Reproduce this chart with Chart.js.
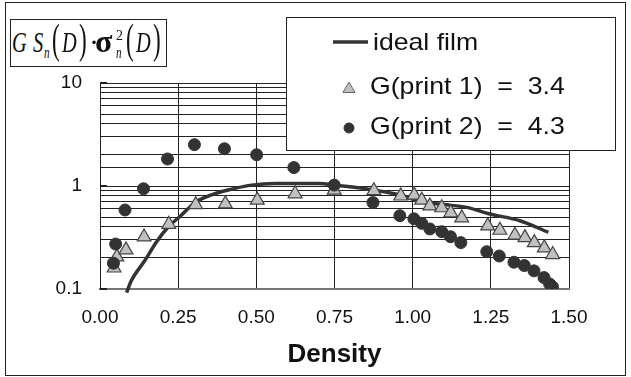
<!DOCTYPE html>
<html>
<head>
<meta charset="utf-8">
<script src="https://cdn.jsdelivr.net/npm/chart.js@4/dist/chart.umd.min.js"></script>
<style>
  html, body { margin: 0; padding: 0; background: #fff; }
  #wrap { position: relative; width: 631px; height: 377px; }
  #chart { position: absolute; left: 0; top: 0; }
  #frame { position: absolute; left: 5px; top: 2px; width: 619px; height: 372px; border: 1px solid #222; }
  #ttl {
    position: absolute; left: 10px; top: 19px; width: 157px; height: 48px;
    border: 1px solid #222; background: #fff; box-sizing: border-box;
    font-family: "Liberation Serif", serif; color: #111;
  }
  #ttl span { position: absolute; line-height: 1; white-space: nowrap; transform-origin: left top; }
  #ttl .it { font-style: italic; font-size: 30px; top: 7px; transform: scaleX(0.68); }
  #ttl .p { font-size: 42px; top: -2px; transform: scaleX(0.55); }
  #ttl .sb { font-style: italic; font-size: 16px; top: 25px; transform: scaleX(0.7); }
</style>
</head>
<body>
<div id="wrap">
  <canvas id="chart" width="631" height="377"></canvas>
  <div id="frame"></div>
  <div id="ttl">
    <span class="it" style="left:1px">G</span>
    <span class="it" style="left:22px">S</span>
    <span class="sb" style="left:33px">n</span>
    <span class="p" style="left:41px">(</span>
    <span class="it" style="left:51px">D</span>
    <span class="p" style="left:68px">)</span>
    <span style="left:78px;top:7px;font-size:30px">·</span>
    <span style="left:84px;top:5px;font-size:32px;font-weight:bold">σ</span>
    <span style="left:105px;top:9px;font-size:14px">2</span>
    <span class="sb" style="left:105px">n</span>
    <span class="p" style="left:115px">(</span>
    <span class="it" style="left:125px">D</span>
    <span class="p" style="left:142px">)</span>
  </div>
</div>
<script>
// ideal film curve
const idealD = [0.085, 0.10, 0.144, 0.18, 0.218, 0.26, 0.304, 0.357, 0.41, 0.485, 0.56, 0.70, 0.75, 0.873, 0.969, 1.023, 1.10, 1.173, 1.247, 1.343, 1.434];
const idealV = [0.092, 0.12, 0.19, 0.285, 0.40, 0.52, 0.69, 0.82, 0.915, 1.02, 1.06, 1.06, 1.02, 0.915, 0.805, 0.705, 0.66, 0.62, 0.535, 0.46, 0.355];

// print 1 (triangles)
const print1D = [0.045, 0.054, 0.083, 0.141, 0.22, 0.306, 0.401, 0.503, 0.624, 0.749, 0.876, 0.962, 1.005, 1.029, 1.055, 1.093, 1.122, 1.157, 1.24, 1.279, 1.327, 1.359, 1.389, 1.421, 1.448];
const print1V = [0.16, 0.205, 0.24, 0.32, 0.425, 0.66, 0.67, 0.73, 0.84, 0.91, 0.9, 0.8, 0.815, 0.73, 0.64, 0.615, 0.55, 0.49, 0.41, 0.372, 0.333, 0.315, 0.282, 0.251, 0.216];

// print 2 (circles)
const print2D = [0.043, 0.050, 0.080, 0.139, 0.216, 0.302, 0.398, 0.501, 0.620, 0.749, 0.873, 0.959, 1.004, 1.029, 1.055, 1.093, 1.121, 1.154, 1.237, 1.277, 1.324, 1.357, 1.388, 1.420, 1.438, 1.447];
const print2V = [0.178, 0.273, 0.585, 0.94, 1.83, 2.52, 2.30, 2.01, 1.51, 1.02, 0.69, 0.515, 0.48, 0.434, 0.383, 0.36, 0.322, 0.282, 0.23, 0.209, 0.182, 0.169, 0.15, 0.129, 0.112, 0.105];

const seriesNames = ['ideal film', 'G(print 1)  =  3.4', 'G(print 2)  =  4.3'];
const xTicks = [0, 0.25, 0.5, 0.75, 1.0, 1.25, 1.5];
const yLabels = [0.1, 1, 10];

const pts = (xs, ys) => xs.map((x, i) => ({ x: x, y: ys[i] }));

// short inside ticks on the y axis at each decade
const decadeTicks = {
    id: 'decadeTicks',
    afterDatasetsDraw(chart) {
        const c = chart.ctx;
        const ys = chart.scales.y;
        const left = chart.chartArea.left;
        c.save();
        c.strokeStyle = '#222';
        c.lineWidth = 2;
        yLabels.forEach(v => {
            const py = Math.round(ys.getPixelForValue(v));
            c.beginPath();
            c.moveTo(left, py);
            c.lineTo(left + 7, py);
            c.stroke();
        });
        c.restore();
    }
};

// legend drawn inside the plot like the original
const boxLegend = {
    id: 'boxLegend',
    afterDraw(chart) {
        const c = chart.ctx;
        c.save();
        c.fillStyle = '#fff';
        c.strokeStyle = '#222';
        c.lineWidth = 1;
        c.fillRect(286, 17, 329, 133);
        c.strokeRect(286.5, 17.5, 329, 133);

        // line sample
        c.strokeStyle = '#333';
        c.lineWidth = 3.5;
        c.beginPath();
        c.moveTo(333, 42);
        c.lineTo(368, 42);
        c.stroke();

        c.fillStyle = '#c0c0c0';
        c.strokeStyle = '#666';
        c.lineWidth = 1;
        Chart.helpers.drawPoint(c, { pointStyle: 'triangle', radius: 7, borderWidth: 1 }, 349, 89);
        c.fillStyle = '#333';
        c.strokeStyle = '#333';
        Chart.helpers.drawPoint(c, { pointStyle: 'circle', radius: 5, borderWidth: 1 }, 349, 128);

        c.font = '24px "Liberation Sans", Arial, sans-serif';
        c.textBaseline = 'middle';
        c.fillStyle = '#111';
        const rows = [[373, 43], [370, 87], [370, 127]];
        rows.forEach((r, i) => {
            c.save();
            c.translate(r[0], r[1]);
            c.scale(1.11, 1);
            c.fillText(seriesNames[i], 0, 0);
            c.restore();
        });
        c.restore();
    }
};

const ctx = document.getElementById('chart').getContext('2d');
const chart = new Chart(ctx, {
    type: 'scatter',
    data: {
        datasets: [
            {
                label: seriesNames[2],
                data: pts(print2D, print2V),
                pointStyle: 'circle',
                pointRadius: 6,
                backgroundColor: '#333',
                borderColor: '#333',
                borderWidth: 1,
                order: 0
            },
            {
                label: seriesNames[1],
                data: pts(print1D, print1V),
                pointStyle: 'triangle',
                pointRadius: 8,
                backgroundColor: '#c0c0c0',
                borderColor: '#444',
                borderWidth: 1.2,
                order: 1
            },
            {
                label: seriesNames[0],
                type: 'line',
                data: pts(idealD, idealV),
                showLine: true,
                pointRadius: 0,
                borderColor: '#333',
                borderWidth: 3.5,
                cubicInterpolationMode: 'monotone',
                clip: 6,
                order: 2
            }
        ]
    },
    options: {
        responsive: false,
        animation: false,
        layout: { padding: { left: 0, top: 83, right: 62, bottom: 0 } },
        plugins: { legend: { display: false }, tooltip: { enabled: false } },
        scales: {
            x: {
                type: 'linear',
                min: 0,
                max: 1.5,
                afterFit: s => { s.height = 88; },
                afterBuildTicks: s => { s.ticks = xTicks.map(v => ({ value: v })); },
                grid: { color: '#222', lineWidth: 1, drawTicks: false },
                border: { color: '#777', width: 2 },
                ticks: {
                    padding: 17,
                    color: '#111',
                    font: { family: '"Liberation Sans", Arial, sans-serif', size: 19 },
                    callback: v => v.toFixed(2)
                },
                title: {
                    display: true,
                    text: 'Density',
                    color: '#111',
                    font: { family: '"Liberation Sans", Arial, sans-serif', size: 26, weight: 'bold' },
                    padding: { top: 0, bottom: 7 }
                }
            },
            y: {
                type: 'logarithmic',
                min: 0.1,
                max: 10,
                afterFit: s => { s.width = 100; },
                grid: { color: '#222', lineWidth: 1, drawTicks: false },
                border: { color: '#222', width: 1 },
                ticks: {
                    padding: 18,
                    color: '#111',
                    font: { family: '"Liberation Sans", Arial, sans-serif', size: 19 },
                    autoSkip: false,
                    callback: v => {
                        const hit = yLabels.find(t => Math.abs(Math.log10(v) - Math.log10(t)) < 1e-6);
                        return hit !== undefined ? String(hit) : '';
                    }
                }
            }
        }
    },
    plugins: [decadeTicks, boxLegend]
});
</script>
</body>
</html>
